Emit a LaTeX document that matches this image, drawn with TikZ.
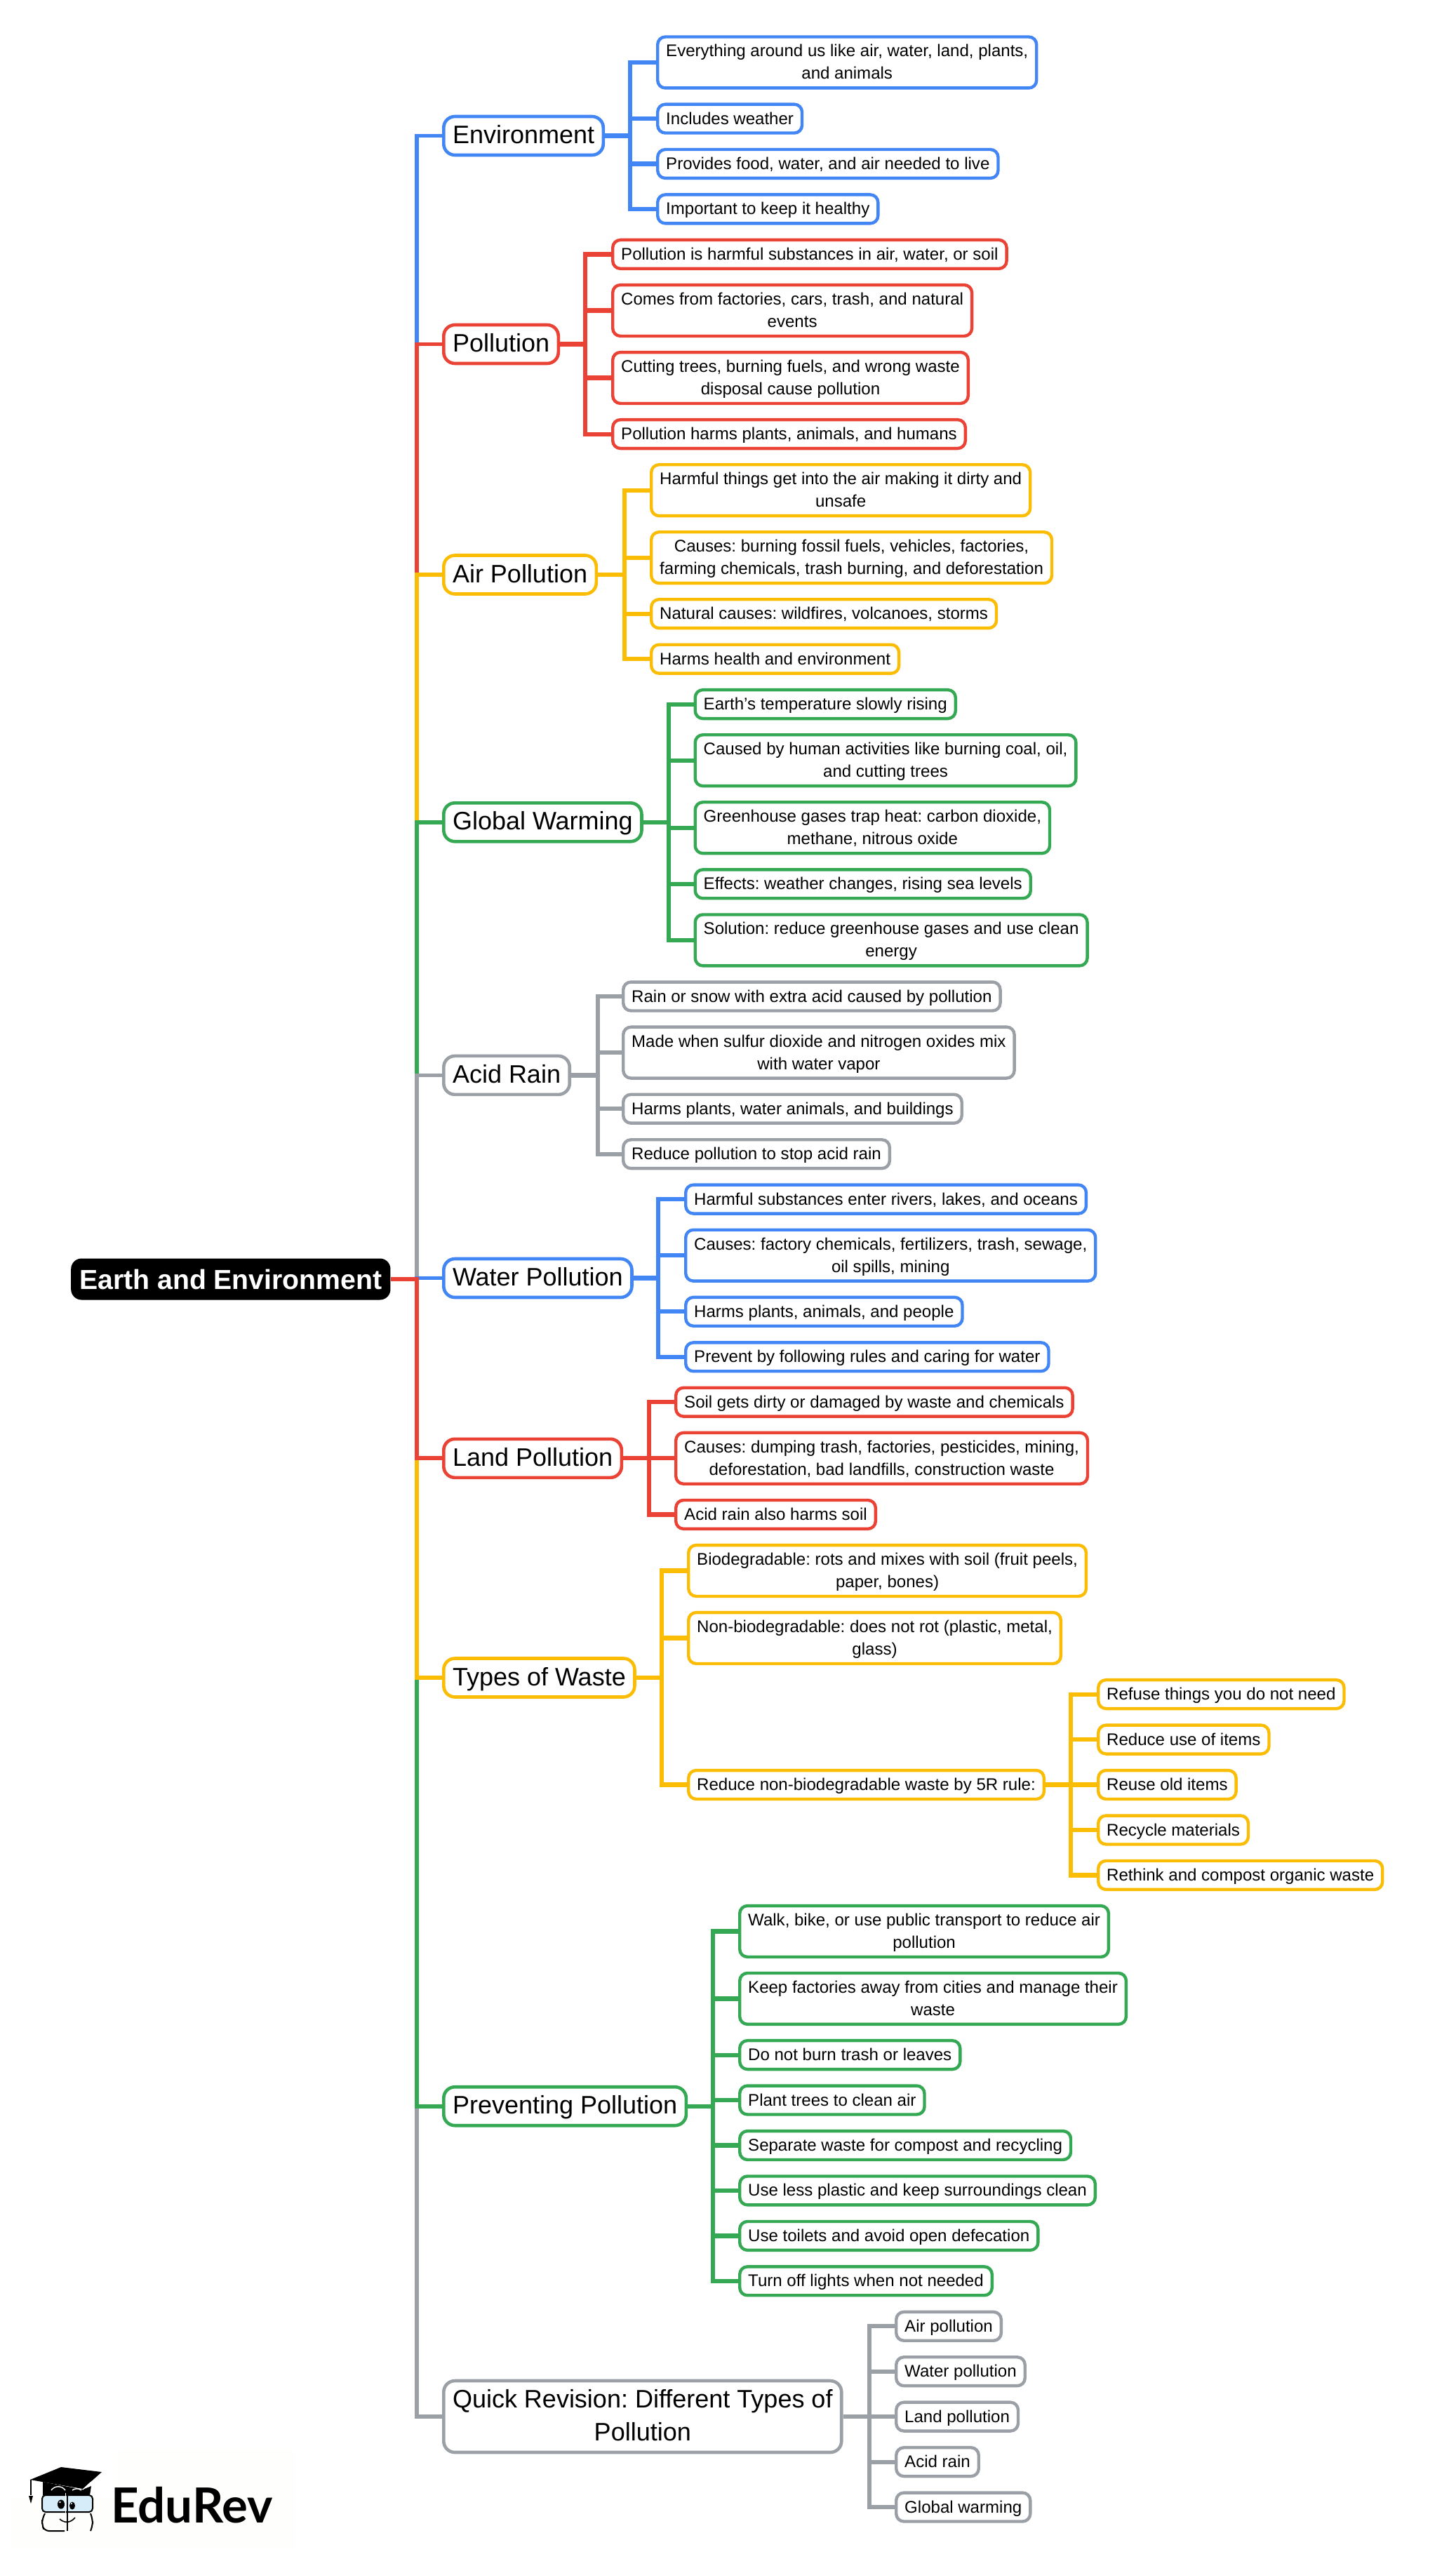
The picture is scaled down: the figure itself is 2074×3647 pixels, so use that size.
\documentclass[tikz,border=0pt]{standalone}
\usepackage{fontspec}
\setmainfont{Liberation Sans}
\newfontfamily\logofont{Lato}
\definecolor{cblue}{HTML}{4285F4}
\definecolor{cred}{HTML}{EA4335}
\definecolor{cyellow}{HTML}{FBBC04}
\definecolor{cgreen}{HTML}{34A853}
\definecolor{cgray}{HTML}{9AA0A6}
\definecolor{logobg}{HTML}{FEFEFD}
\definecolor{lens}{HTML}{D6ECF8}
\tikzset{
  x=1pt,y=-1pt,
  leaf/.style={draw=#1,line width=4.4pt,rounded corners=11pt,fill=white,anchor=west,
     font=\frenchspacing\fontsize{24.05}{32}\selectfont,inner xsep=12pt,inner ysep=4.45pt},
  mainbox/.style={draw=#1,line width=4.6pt,rounded corners=16pt,fill=white,anchor=west,
     font=\frenchspacing\fontsize{36}{47}\selectfont,inner xsep=12.7pt,inner ysep=4pt},
  rootbox/.style={fill=black,text=white,rounded corners=15pt,anchor=west,
     font=\frenchspacing\fontsize{39.2}{47}\selectfont\bfseries,inner xsep=12pt,inner ysep=0pt,minimum height=59pt,minimum width=455pt},
  trunk/.style={draw=#1,line width=5.8pt},
  stem/.style={draw=#1,line width=6.2pt},
}
\newcommand{\T}[1]{\vbox{\kern1.6pt\hbox{\begin{tabular}{@{}c@{}}#1\end{tabular}}\kern-1.6pt}}
\newcommand{\twig}[4]{% colour, from, spine x, to
  \draw[stem=#1] (#2.east) -- (#3,0 |- #2.east) |- (#4.west);}
\newcommand{\branch}[2]{% colour, main node
  \draw[trunk=#1] (root.east) -| (trk |- #2.west) -- (#2.west);}
\begin{document}
\begin{tikzpicture}
\useasboundingbox (0,0) rectangle (2074,3647);
\fill[white] (0,0) rectangle (2074,3647);
\fill[logobg] (167,3490) rectangle (421,3632);
\fill[logobg] (15,3560) rectangle (167,3632);
\coordinate (trk) at (594,0);

\node[rootbox] (root) at (101,1823) {Earth and Environment};

% main nodes
\node[mainbox=cblue] (m1) at (630,193.5) {\T{Environment}};
\node[mainbox=cred] (m2) at (630,490.5) {\T{Pollution}};
\node[mainbox=cyellow] (m3) at (630,819) {\T{Air Pollution}};
\node[mainbox=cgreen] (m4) at (630,1171.8) {\T{Global Warming}};
\node[mainbox=cgray] (m5) at (630,1532.4) {\T{Acid Rain}};
\node[mainbox=cblue] (m6) at (630,1821.5) {\T{Water Pollution}};
\node[mainbox=cred] (m7) at (630,2078.3) {\T{Land Pollution}};
\node[mainbox=cyellow] (m8) at (630,2391) {\T{Types of Waste}};
\node[mainbox=cgreen] (m9) at (630,3001.7) {\T{Preventing Pollution}};
\node[mainbox=cgray] (m10) at (630,3444) {\T{Quick Revision: Different Types of\\Pollution}};

% trunk segments: the farthest first, so that the nearer ones lie on top
\branch{cblue}{m1}
\branch{cred}{m2}
\branch{cyellow}{m3}
\branch{cgreen}{m4}
\branch{cgray}{m5}
\branch{cgray}{m10}
\branch{cgreen}{m9}
\branch{cyellow}{m8}
\branch{cblue}{m6}
\branch{cred}{m7}

% leaves
\node[leaf=cblue] (a1) at (935,89) {\T{Everything around us like air, water, land, plants,\\and animals}};
\node[leaf=cblue] (a2) at (935,169.1) {\T{Includes weather}};
\node[leaf=cblue] (a3) at (935,233.5) {\T{Provides food, water, and air needed to live}};
\node[leaf=cblue] (a4) at (935,297.9) {\T{Important to keep it healthy}};
\node[leaf=cred] (b1) at (871,362.4) {\T{Pollution is harmful substances in air, water, or soil}};
\node[leaf=cred] (b2) at (871,442.5) {\T{Comes from factories, cars, trash, and natural\\events}};
\node[leaf=cred] (b3) at (871,538.5) {\T{Cutting trees, burning fuels, and wrong waste\\disposal cause pollution}};
\node[leaf=cred] (b4) at (871,618.6) {\T{Pollution harms plants, animals, and humans}};
\node[leaf=cyellow] (c1) at (926,698.7) {\T{Harmful things get into the air making it dirty and\\unsafe}};
\node[leaf=cyellow] (c2) at (926,794.7) {\T{Causes: burning fossil fuels, vehicles, factories,\\farming chemicals, trash burning, and deforestation}};
\node[leaf=cyellow] (c3) at (926,874.7) {\T{Natural causes: wildfires, volcanoes, storms}};
\node[leaf=cyellow] (c4) at (926,939.2) {\T{Harms health and environment}};
\node[leaf=cgreen] (d1) at (988.5,1003.6) {\T{Earth's temperature slowly rising}};
\node[leaf=cgreen] (d2) at (988.5,1083.7) {\T{Caused by human activities like burning coal, oil,\\and cutting trees}};
\node[leaf=cgreen] (d3) at (988.5,1179.7) {\T{Greenhouse gases trap heat: carbon dioxide,\\methane, nitrous oxide}};
\node[leaf=cgreen] (d4) at (988.5,1259.8) {\T{Effects: weather changes, rising sea levels}};
\node[leaf=cgreen] (d5) at (988.5,1339.9) {\T{Solution: reduce greenhouse gases and use clean\\energy}};
\node[leaf=cgray] (e1) at (886,1420) {\T{Rain or snow with extra acid caused by pollution}};
\node[leaf=cgray] (e2) at (886,1500.1) {\T{Made when sulfur dioxide and nitrogen oxides mix\\with water vapor}};
\node[leaf=cgray] (e3) at (886,1580.2) {\T{Harms plants, water animals, and buildings}};
\node[leaf=cgray] (e4) at (886,1644.7) {\T{Reduce pollution to stop acid rain}};
\node[leaf=cblue] (f1) at (975,1709.1) {\T{Harmful substances enter rivers, lakes, and oceans}};
\node[leaf=cblue] (f2) at (975,1789.2) {\T{Causes: factory chemicals, fertilizers, trash, sewage,\\oil spills, mining}};
\node[leaf=cblue] (f3) at (975,1869.3) {\T{Harms plants, animals, and people}};
\node[leaf=cblue] (f4) at (975,1933.8) {\T{Prevent by following rules and caring for water}};
\node[leaf=cred] (g1) at (961,1998.2) {\T{Soil gets dirty or damaged by waste and chemicals}};
\node[leaf=cred] (g2) at (961,2078.3) {\T{Causes: dumping trash, factories, pesticides, mining,\\deforestation, bad landfills, construction waste}};
\node[leaf=cred] (g3) at (961,2158.4) {\T{Acid rain also harms soil}};
\node[leaf=cyellow] (h1) at (979,2238.5) {\T{Biodegradable: rots and mixes with soil (fruit peels,\\paper, bones)}};
\node[leaf=cyellow] (h2) at (979,2334.5) {\T{Non-biodegradable: does not rot (plastic, metal,\\glass)}};
\node[leaf=cyellow] (h3) at (979,2543.5) {\T{Reduce non-biodegradable waste by 5R rule:}};
\node[leaf=cyellow] (i1) at (1563,2414.6) {\T{Refuse things you do not need}};
\node[leaf=cyellow] (i2) at (1563,2479.1) {\T{Reduce use of items}};
\node[leaf=cyellow] (i3) at (1563,2543.5) {\T{Reuse old items}};
\node[leaf=cyellow] (i4) at (1563,2608) {\T{Recycle materials}};
\node[leaf=cyellow] (i5) at (1563,2672.4) {\T{Rethink and compost organic waste}};
\node[leaf=cgreen] (j1) at (1052,2752.5) {\T{Walk, bike, or use public transport to reduce air\\pollution}};
\node[leaf=cgreen] (j2) at (1052,2848.4) {\T{Keep factories away from cities and manage their\\waste}};
\node[leaf=cgreen] (j3) at (1052,2928.6) {\T{Do not burn trash or leaves}};
\node[leaf=cgreen] (j4) at (1052,2993) {\T{Plant trees to clean air}};
\node[leaf=cgreen] (j5) at (1052,3057.5) {\T{Separate waste for compost and recycling}};
\node[leaf=cgreen] (j6) at (1052,3121.9) {\T{Use less plastic and keep surroundings clean}};
\node[leaf=cgreen] (j7) at (1052,3186.4) {\T{Use toilets and avoid open defecation}};
\node[leaf=cgreen] (j8) at (1052,3250.8) {\T{Turn off lights when not needed}};
\node[leaf=cgray] (k1) at (1275,3315.3) {\T{Air pollution}};
\node[leaf=cgray] (k2) at (1275,3379.7) {\T{Water pollution}};
\node[leaf=cgray] (k3) at (1275,3444.1) {\T{Land pollution}};
\node[leaf=cgray] (k4) at (1275,3508.6) {\T{Acid rain}};
\node[leaf=cgray] (k5) at (1275,3573) {\T{Global warming}};

% twigs
\foreach \n in {a1,a2,a3,a4}{\twig{cblue}{m1}{898}{\n}}
\foreach \n in {b1,b2,b3,b4}{\twig{cred}{m2}{834}{\n}}
\foreach \n in {c1,c2,c3,c4}{\twig{cyellow}{m3}{890}{\n}}
\foreach \n in {d1,d2,d3,d4,d5}{\twig{cgreen}{m4}{953}{\n}}
\foreach \n in {e1,e2,e3,e4}{\twig{cgray}{m5}{852}{\n}}
\foreach \n in {f1,f2,f3,f4}{\twig{cblue}{m6}{938}{\n}}
\foreach \n in {g1,g2,g3}{\twig{cred}{m7}{925}{\n}}
\foreach \n in {h1,h2,h3}{\twig{cyellow}{m8}{943}{\n}}
\foreach \n in {i1,i2,i3,i4,i5}{\twig{cyellow}{h3}{1526}{\n}}
\foreach \n in {j1,j2,j3,j4,j5,j6,j7,j8}{\twig{cgreen}{m9}{1016}{\n}}
\foreach \n in {k1,k2,k3,k4,k5}{\twig{cgray}{m10}{1239}{\n}}

% logo
\node[anchor=base west,inner sep=0pt,font=\logofont\fontsize{69}{69}\selectfont\bfseries] (logo) at (158,3595) {EduRev};
\fill[black] (61,3537) -- (118,3548) -- (130,3543) -- (128,3556) -- (61,3556) -- cycle;
\fill[black] (43,3534) -- (87,3516) -- (145,3523) -- (118,3547) -- cycle;
\draw[white,line width=1pt] (118,3548) -- (130,3537);
\draw[white,line width=1.4pt] (73,3549) .. controls (78,3542) and (88,3542) .. (93,3549);
\draw[white,line width=1.4pt] (103,3549) .. controls (107,3546) and (112,3546) .. (116,3549);
\draw[black,line width=1.6pt] (44,3534) -- (44,3556);
\fill[black] (41,3557) -- (47,3557) -- (44,3568) -- cycle;
\draw[black,line width=2pt,fill=lens,rounded corners=5pt] (60,3556) rectangle (132,3580);
\draw[black,line width=2pt,rounded corners=7pt] (92,3607) -- (63,3607) -- (60,3598) -- (60,3590) -- (64,3582);
\draw[black,line width=2pt,rounded corners=7pt] (129,3582) -- (132,3590) -- (132,3600) -- (129,3607);
\draw[white,line width=1.5pt] (93.5,3553) -- (93.5,3607);
\draw[black,line width=2pt] (96,3553) -- (96,3607);
\draw[black,line width=1.6pt] (85,3590) .. controls (92,3596) and (100,3596) .. (107,3588);
\fill[black] (87,3569) ellipse [x radius=5,y radius=6.5];
\fill[black] (103,3571) ellipse [x radius=4,y radius=5.5];
\fill[white] (85.5,3566) circle (1.4);
\fill[white] (102,3568) circle (1.2);
\end{tikzpicture}
\end{document}
